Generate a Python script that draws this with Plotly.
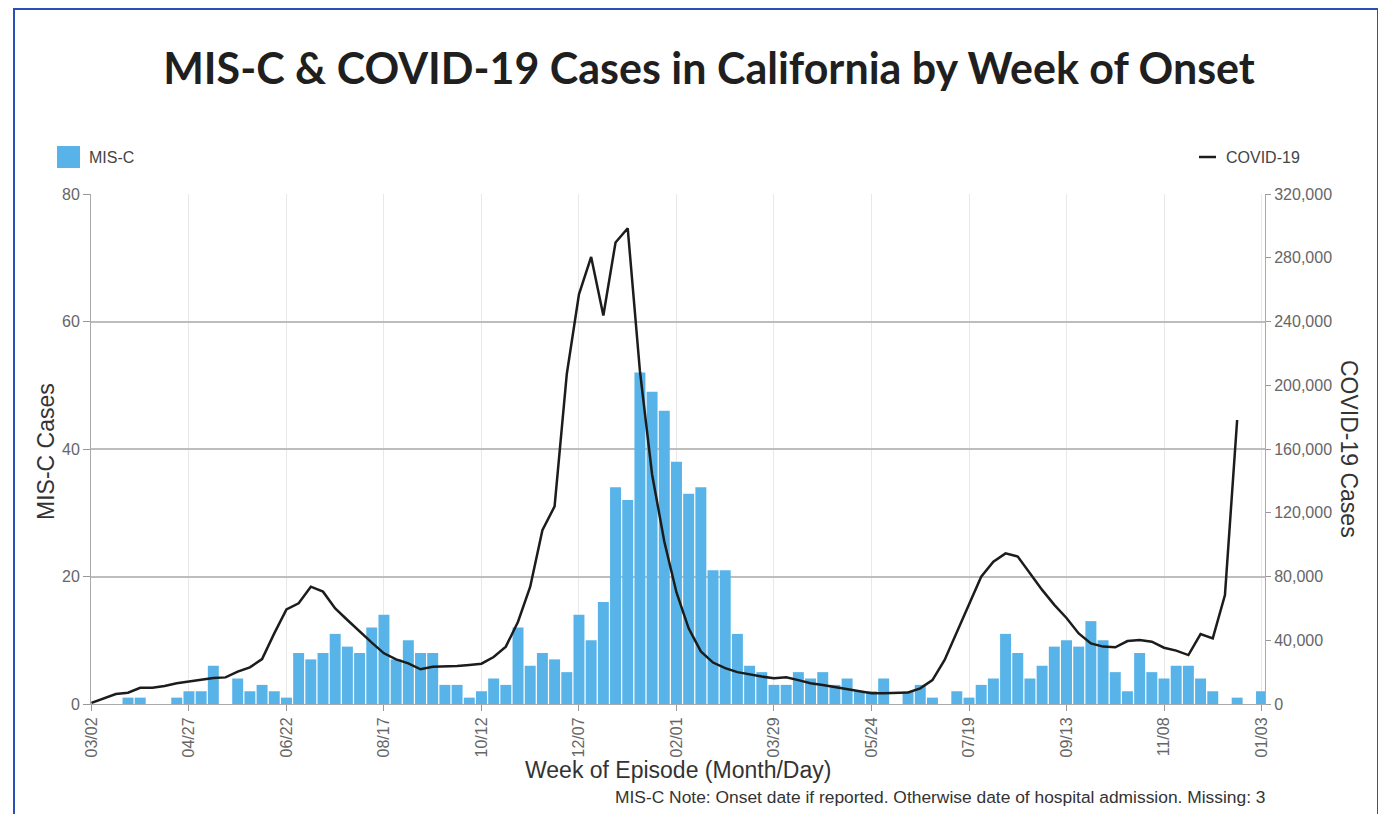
import pandas as pd
import plotly.graph_objects as go

# ---- data ----
start_date = "2020-03-02"
n_weeks = 97
weeks = pd.date_range(start_date, periods=n_weeks, freq="7D")

misc_cases = [0, 0, 0, 1, 1, 0, 0, 1, 2, 2, 6, 0, 4, 2, 3, 2, 1,
              8, 7, 8, 11, 9, 8, 12, 14, 7, 10, 8, 8, 3, 3, 1, 2, 4,
              3, 12, 6, 8, 7, 5, 14, 10, 16, 34, 32, 52, 49, 46, 38, 33, 34,
              21, 21, 11, 6, 5, 3, 3, 5, 4, 5, 3, 4, 2, 2, 4, 0, 2,
              3, 1, 0, 2, 1, 3, 4, 11, 8, 4, 6, 9, 10, 9, 13, 10, 5,
              2, 8, 5, 4, 6, 6, 4, 2, 0, 1, 0, 2]

covid_cases = [700, 3600, 6300, 7100, 10200, 10200, 11300, 13000, 14200, 15500,
               16300, 16700, 20300, 23000, 28200, 44300, 59400, 63200, 73600, 70500,
               60000, 52700, 45400, 38500, 31800, 28000, 25500, 21800, 23400, 23400,
               23800, 24500, 25300, 29500, 36000, 51600, 73600, 109000, 124000, 207000,
               257000, 280500, 243800, 289600, 298500, 209000, 144000, 102000, 70000, 47500,
               33000, 26000, 22500, 20000, 18500, 17200, 16200, 16800, 15000, 13000,
               11900, 10500, 9200, 7700, 6700, 6700, 6800, 7200, 9800, 15000,
               27600, 45400, 63200, 79900, 89300, 94500, 92500, 82000, 71600, 62200,
               54000, 44300, 38000, 36000, 35600, 39500, 40200, 39100, 35300, 33500,
               30700, 43900, 41200, 68400, 178200]

tick_dates = weeks[::8]
tick_labels = [d.strftime("%m/%d") for d in tick_dates]
left_ticks = [0, 20, 40, 60, 80]
right_ticks = [0, 40000, 80000, 120000, 160000, 200000, 240000, 280000, 320000]

title_text = "MIS-C & COVID-19 Cases in California by Week of Onset"
note_text = "MIS-C Note: Onset date if reported. Otherwise date of hospital admission. Missing: 3"

# ---- geometry (page coords minus the 8px page margin) ----
OFF = 8
W, H = 1378, 806
L, R, T, B = 91 - OFF, 1265 - OFF, 194 - OFF, 704 - OFF


def px_x(p):
    return (p - OFF - L) / (R - L)


def px_y(p):
    return (B - (p - OFF)) / (B - T)


tick_font = dict(family="Arial, Liberation Sans, sans-serif", size=16, color="#666666")
title_font = dict(family="Arial, Liberation Sans, sans-serif", size=23, color="#333333")

fig = go.Figure()
fig.add_trace(go.Bar(
    x=weeks, y=misc_cases, name="MIS-C",
    marker=dict(color="#58b4e8", line=dict(width=0)),
    yaxis="y", showlegend=False,
))
fig.add_trace(go.Scatter(
    x=weeks[:len(covid_cases)], y=covid_cases, name="COVID-19",
    mode="lines", line=dict(color="#1c1c1c", width=2.5),
    yaxis="y2", showlegend=False,
))

fig.update_layout(
    width=W, height=H, autosize=False,
    margin=dict(l=L, r=W - R, t=T, b=H - B),
    paper_bgcolor="white", plot_bgcolor="white",
    bargap=0.1,
    title=dict(text=f"<b>{title_text}</b>", x=(709 - OFF) / W, xanchor="center",
               y=1 - (69 - OFF) / H, yanchor="middle", yref="container",
               font=dict(family="Lato, sans-serif", size=43, color="#1f1f1f")),
    xaxis=dict(
        type="date",
        range=[weeks[0] - pd.Timedelta(hours=6), weeks[-1] + pd.Timedelta(days=2)],
        tickvals=list(tick_dates), ticktext=tick_labels, tickangle=-90,
        tickfont=tick_font, ticks="outside", ticklen=6, tickcolor="#999999",
        showgrid=True, gridcolor="#e8e8e8", gridwidth=1,
        showline=True, linecolor="#aaaaaa", linewidth=1,
        zeroline=False,
    ),
    yaxis=dict(
        range=[0, 80], tickvals=left_ticks, tickfont=tick_font,
        ticks="outside", ticklen=7, tickcolor="#999999",
        showgrid=True, gridcolor="#bdbdbd", gridwidth=2,
        showline=True, linecolor="#aaaaaa", linewidth=1,
        zeroline=False,
    ),
    yaxis2=dict(
        range=[0, 320000], tickvals=right_ticks, tickformat=",",
        tickfont=tick_font, overlaying="y", side="right",
        ticks="outside", ticklen=5, tickcolor="#999999",
        showgrid=False, showline=True, linecolor="#aaaaaa", linewidth=1,
        zeroline=False,
    ),
)

shapes = [
    # outer blue frame
    dict(type="rect", xref="paper", yref="paper",
         x0=px_x(14), x1=px_x(1378), y0=px_y(840), y1=px_y(OFF + 1),
         line=dict(color="#2b4fb8", width=2), fillcolor="rgba(0,0,0,0)", layer="above"),
    # legend: MIS-C square
    dict(type="rect", xref="paper", yref="paper",
         x0=px_x(57), x1=px_x(80), y0=px_y(168), y1=px_y(146),
         line=dict(width=0), fillcolor="#58b4e8"),
    # legend: COVID-19 line
    dict(type="line", xref="paper", yref="paper",
         x0=px_x(1199), x1=px_x(1216), y0=px_y(157), y1=px_y(157),
         line=dict(color="#1c1c1c", width=2.5)),
]
fig.update_layout(shapes=shapes)

leg_font = dict(family="Arial, Liberation Sans, sans-serif", size=16, color="#444444")
annotations = [
    dict(text="MIS-C", xref="paper", yref="paper", x=px_x(87), y=px_y(157),
         xanchor="left", yanchor="middle", showarrow=False, font=leg_font),
    dict(text="COVID-19", xref="paper", yref="paper", x=px_x(1224), y=px_y(157),
         xanchor="left", yanchor="middle", showarrow=False, font=leg_font),
    dict(text="MIS-C Cases", xref="paper", yref="paper", x=px_x(46), y=px_y(452),
         xanchor="center", yanchor="middle", textangle=-90, showarrow=False, font=title_font),
    dict(text="COVID-19 Cases", xref="paper", yref="paper", x=px_x(1349), y=px_y(449),
         xanchor="center", yanchor="middle", textangle=90, showarrow=False, font=title_font),
    dict(text="Week of Episode (Month/Day)", xref="paper", yref="paper", x=px_x(678), y=px_y(770),
         xanchor="center", yanchor="middle", showarrow=False, font=title_font),
    dict(text=note_text, xref="paper", yref="paper", x=px_x(1268), y=px_y(797),
         xanchor="right", yanchor="middle", showarrow=False,
         font=dict(family="Arial, Liberation Sans, sans-serif", size=17.4, color="#333333")),
]
fig.update_layout(annotations=annotations)

fig.write_html("out.html")
